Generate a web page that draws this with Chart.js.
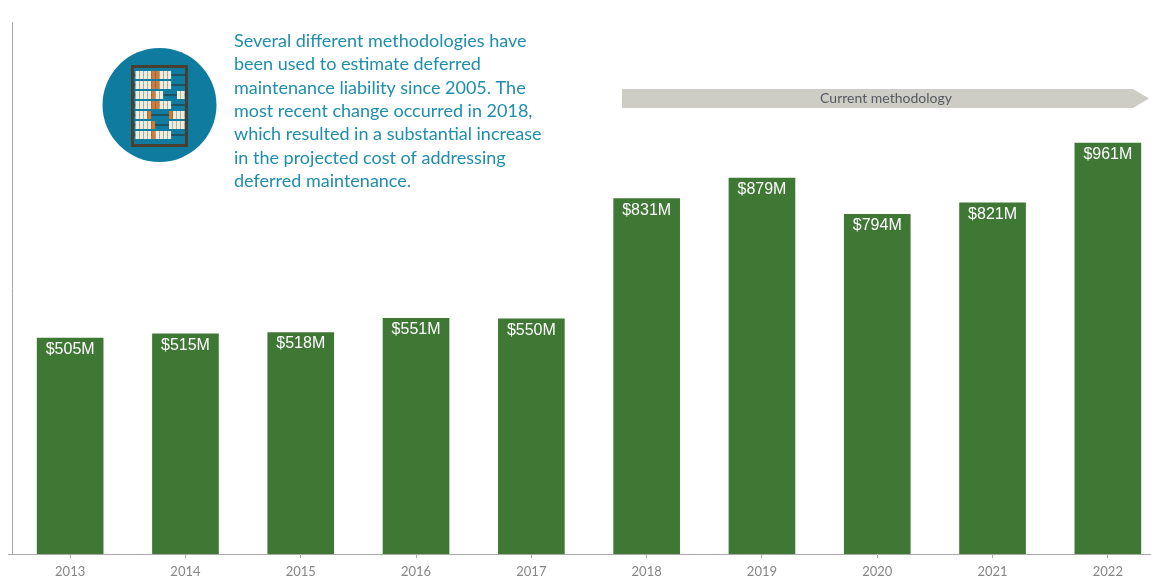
<!DOCTYPE html>
<html>
<head>
<meta charset="utf-8">
<script src="https://cdn.jsdelivr.net/npm/chart.js@4"></script>
<style>
html, body { margin: 0; padding: 0; background: #fff; overflow: hidden; }
#wrap { position: relative; width: 1151px; height: 579px; overflow: hidden; }
#wrap canvas { position: absolute; left: 0; top: 0; }
</style>
</head>
<body>
<div id="wrap"><canvas id="myChart" width="1166" height="579"></canvas></div>
<script>
const years = ['2013', '2014', '2015', '2016', '2017', '2018', '2019', '2020', '2021', '2022'];
const liability = [505, 515, 518, 551, 550, 831, 879, 794, 821, 961];
const noteLines = [
    'Several different methodologies have',
    'been used to estimate deferred',
    'maintenance liability since 2005. The',
    'most recent change occurred in 2018,',
    'which resulted in a substantial increase',
    'in the projected cost of addressing',
    'deferred maintenance.'
];
const arrowLabel = 'Current methodology';

// value labels inside the top of each bar
const barLabels = {
    id: 'barLabels',
    afterDatasetsDraw(chart) {
        const c = chart.ctx;
        c.save();
        c.fillStyle = '#ffffff';
        c.font = '16px "Liberation Sans"';
        c.textAlign = 'center';
        c.textBaseline = 'middle';
        chart.getDatasetMeta(0).data.forEach((bar, i) => {
            c.fillText('$' + liability[i] + 'M', bar.x, bar.y + 11.5);
        });
        c.restore();
    }
};

function drawAbacus(c) {
    c.fillStyle = '#0f7c9f';
    c.beginPath();
    c.arc(159.5, 105, 57, 0, Math.PI * 2);
    c.fill();
    // rows: beads on the left, beads on the right, orange bead positions
    const rows = [[9, 0, [4, 5]], [9, 0, [4, 5]], [7, 2, [4]], [9, 0, [4, 5]], [4, 4, [3, 4]], [5, 4, [4]], [9, 0, [4]]];
    rows.forEach((r, i) => {
        const y = 75 + i * 10;
        c.strokeStyle = '#2b2a22';
        c.lineWidth = 1;
        c.beginPath();
        c.moveTo(134, y);
        c.lineTo(185, y);
        c.stroke();
        for (let b = 0; b < r[0] + r[1]; b++) {
            const x = b < r[0] ? 135.5 + b * 4 : 185 - (r[0] + r[1] - b) * 4;
            const orange = r[2].includes(b);
            c.fillStyle = orange ? '#d9782f' : '#f4ecd8';
            c.fillRect(x, y - 4, 3.6, 8);
        }
    });
    c.strokeStyle = '#4a3f2e';
    c.lineWidth = 3;
    c.strokeRect(132.5, 66.5, 54, 79);
}

const decorations = {
    id: 'decorations',
    afterDraw(chart) {
        const c = chart.ctx;
        c.save();
        drawAbacus(c);

        c.fillStyle = '#1f8dad';
        c.font = '18px Lato';
        c.textAlign = 'left';
        c.textBaseline = 'middle';
        noteLines.forEach((line, i) => c.fillText(line, 234, 41 + i * 23.4));

        c.fillStyle = '#cdcdc5';
        c.beginPath();
        c.moveTo(622, 89);
        c.lineTo(1133, 89);
        c.lineTo(1149, 98.5);
        c.lineTo(1133, 108);
        c.lineTo(622, 108);
        c.closePath();
        c.fill();

        c.fillStyle = '#555a62';
        c.font = '14px Lato';
        c.textAlign = 'center';
        c.fillText(arrowLabel, 886, 98.5);

        // axis stub left of the y axis
        c.strokeStyle = '#a8a8a8';
        c.lineWidth = 1;
        c.beginPath();
        c.moveTo(8, chart.chartArea.bottom + 0.5);
        c.lineTo(13, chart.chartArea.bottom + 0.5);
        c.stroke();
        c.restore();
    }
};

new Chart(document.getElementById('myChart'), {
    type: 'bar',
    data: {
        labels: years,
        datasets: [{
            data: liability,
            backgroundColor: '#3f7735',
            barThickness: 66
        }]
    },
    plugins: [barLabels, decorations],
    options: {
        responsive: false,
        animation: false,
        layout: { padding: { left: 12.5, right: 0.5, top: 22, bottom: 0 } },
        plugins: { legend: { display: false }, tooltip: { enabled: false } },
        scales: {
            x: {
                afterFit(scale) { scale.height = 25; },
                grid: { offset: false, drawOnChartArea: false, drawTicks: true, tickLength: 4, color: '#a8a8a8' },
                border: { color: '#a8a8a8', width: 1 },
                ticks: { color: '#858585', font: { family: 'Lato', size: 13 }, padding: 6, maxRotation: 0 }
            },
            y: {
                min: 0,
                max: 1244,
                afterFit(scale) { scale.width = 0; },
                grid: { display: false },
                border: { color: '#a8a8a8', width: 1 },
                ticks: { display: false }
            }
        }
    }
});
</script>
</body>
</html>
